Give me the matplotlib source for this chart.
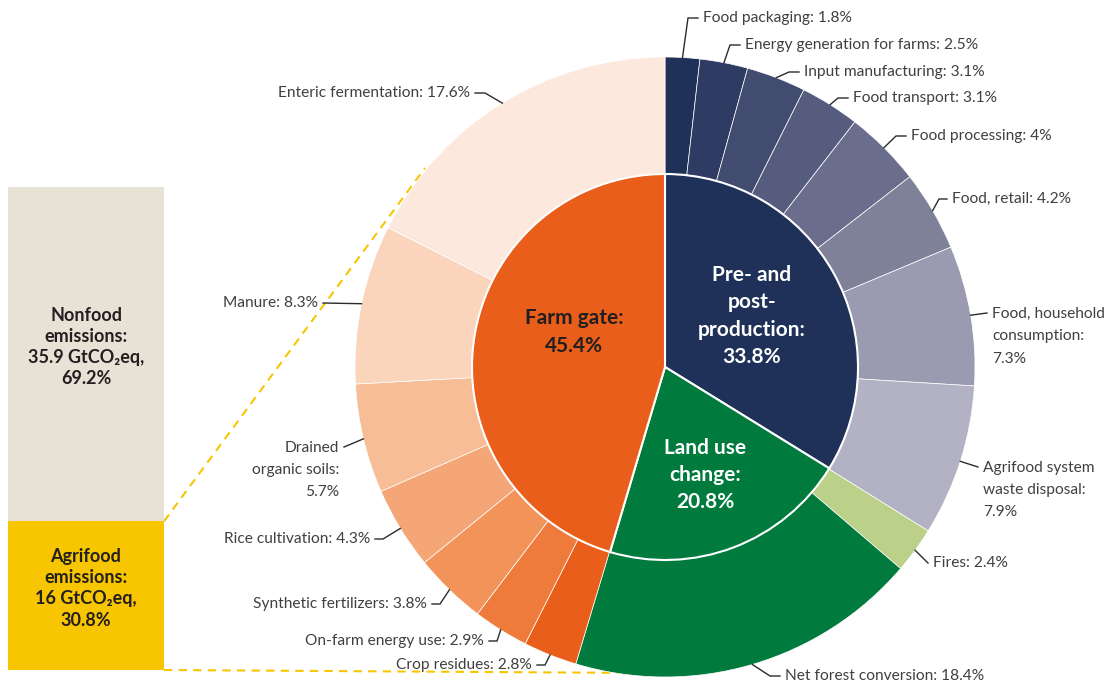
import numpy as np
import matplotlib.pyplot as plt

W, H = 1113, 685

# inner ring: the three stages
inner_labels = ["Pre- and\npost-\nproduction:\n33.8%", "Land use\nchange:\n20.8%", "Farm gate:\n45.4%"]
inner_values = [33.8, 20.8, 45.4]
inner_colors = ["#1F3159", "#007A3D", "#E95E1A"]

# outer ring: the components
outer_labels = [
    "Food packaging: {}%", "Energy generation for farms: {}%", "Input manufacturing: {}%",
    "Food transport: {}%", "Food processing: {}%", "Food, retail: {}%",
    "Food, household\nconsumption:\n{}%", "Agrifood system\nwaste disposal:\n{}%",
    "Fires: {}%", "Net forest conversion: {}%",
    "Crop residues: {}%", "On-farm energy use: {}%", "Synthetic fertilizers: {}%",
    "Rice cultivation: {}%", "Drained\norganic soils:\n{}%", "Manure: {}%",
    "Enteric fermentation: {}%",
]
outer_values = [1.8, 2.5, 3.1, 3.1, 4, 4.2, 7.3, 7.9,
                2.4, 18.4,
                2.8, 2.9, 3.8, 4.3, 5.7, 8.3, 17.6]
outer_colors = ["#1F3159", "#2E3C63", "#424B70", "#555C7E", "#6A6E8C", "#7F8199", "#9A9AB0", "#B3B2C5",
                "#BBD088", "#007A3D",
                "#E95E1A", "#EE7B3C", "#F29359", "#F4A676", "#F7BD96", "#FAD5BC", "#FCE8DD"]

# left bar: share of total emissions
share_labels = ["Agrifood\nemissions:\n16 GtCO₂eq,\n30.8%", "Nonfood\nemissions:\n35.9 GtCO₂eq,\n69.2%"]
share_values = [30.8, 69.2]
share_colors = ["#F7C600", "#E8E2D6"]

# label placement in pixels (x, y from top, ha, hook length)
label_pos = [
    (703, 18, "left", 10), (745, 45, "left", 10), (804, 72, "left", 10),
    (853, 98, "left", 10), (911, 136, "left", 10), (952, 199, "left", 8),
    (992, 313, "left", 0), (983, 467, "left", 0),
    (933, 563, "left", 0), (785, 676, "left", 10),
    (532, 665, "right", 8), (484, 641, "right", 8), (427, 604, "right", 8),
    (370, 539, "right", 8), (339, 447, "right", 0), (318, 303, "right", 0),
    (470, 93, "right", 10),
]
inner_pos = [(752, 316), (705, 475), (574, 332)]

cx, cy = 665, H - 367
r_out, r_in = 310, 193

fig = plt.figure(figsize=(W / 100, H / 100), dpi=100)
ax = fig.add_axes([0, 0, 1, 1])

ax.pie(outer_values, radius=r_out, center=(cx, cy), startangle=90, counterclock=False,
       colors=outer_colors, wedgeprops=dict(width=r_out - r_in, edgecolor="white", linewidth=0.5))
ax.pie(inner_values, radius=r_in, center=(cx, cy), startangle=90, counterclock=False,
       colors=inner_colors, wedgeprops=dict(edgecolor="white", linewidth=1.5))

txt_font = dict(family=["Lato", "DejaVu Sans"], color="#404040", fontsize=11.2)

# outer labels with leader lines
cum = np.cumsum(outer_values) / np.sum(outer_values)
mids = cum - np.array(outer_values) / np.sum(outer_values) / 2
for lab, val, m, (tx, ty, ha, hook) in zip(outer_labels, outer_values, mids, label_pos):
    ang = np.deg2rad(90 - 360 * m)
    px, py = cx + r_out * np.cos(ang), cy + r_out * np.sin(ang)
    ty = H - ty
    sgn = -1 if ha == "left" else 1
    end = tx + sgn * 5
    elbow = end + sgn * hook
    ax.plot([px, elbow, end], [py, ty, ty], color="#2B2B2B", lw=1, solid_joinstyle="miter")
    multi = "\n" in lab
    ax.text(tx, ty + (6 if multi else 0), lab.format(val), ha=ha, va="top" if multi else "center",
            linespacing=1.75, **txt_font)

# inner labels
for lab, (tx, ty), col in zip(inner_labels, inner_pos, ["white", "white", "#231F20"]):
    ax.text(tx, H - ty, lab, ha="center", va="center", fontsize=15, fontweight="bold",
            color=col, family=["Lato", "DejaVu Sans"], linespacing=1.45)

# bar on the left
bx0, bx1, btop, bbot = 8, 164, 187, 670
ax2 = fig.add_axes([bx0 / W, (H - bbot) / H, (bx1 - bx0) / W, (bbot - btop) / H])
bottoms = np.concatenate([[0], np.cumsum(share_values)[:-1]])
ax2.bar([0, 0], share_values, bottom=bottoms, width=1, color=share_colors)
for lab, v, b in zip(share_labels, share_values, bottoms):
    ax2.text(0, b + v / 2 + 1.5, lab, ha="center", va="center", fontsize=13, fontweight="bold",
             color="#231F20", family=["Lato", "DejaVu Sans"], linespacing=1.3)
ax2.set_xlim(-0.5, 0.5)
ax2.set_ylim(0, sum(share_values))
ax2.axis("off")

# dashed connectors from the agrifood box to the ring
boundary_px = bbot - (bbot - btop) * share_values[0] / sum(share_values)
ax.plot([bx1, 425], [H - boundary_px, H - 168], color="#F7C600", lw=1.5, ls=(0, (4, 3)), zorder=0)
ax.plot([bx1, 646], [H - bbot, H - 673], color="#F7C600", lw=1.5, ls=(0, (4, 3)), zorder=0)

ax.set_xlim(0, W)
ax.set_ylim(0, H)
ax.set_aspect("auto")
ax.axis("off")

fig.savefig("out.png", dpi=100)
